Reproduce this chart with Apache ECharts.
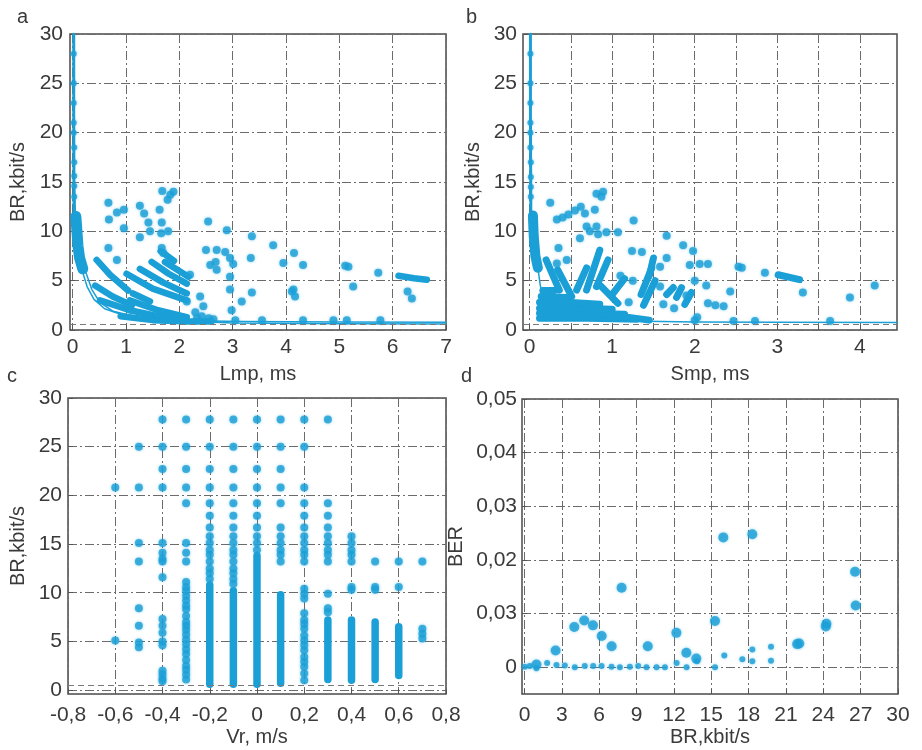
<!DOCTYPE html>
<html>
<head>
<meta charset="utf-8">
<script src="https://cdn.jsdelivr.net/npm/echarts@6.0.0/dist/echarts.min.js"></script>
<style>
html, body { margin: 0; padding: 0; background: #fff; }
#main { width: 922px; height: 750px; }
</style>
</head>
<body>
<div id="main"></div>
<script>
// ---------- tick values / labels ----------
var brTicks = [0, 5, 10, 15, 20, 25, 30];
var brLabels = ['0', '5', '10', '15', '20', '25', '30'];
var lmpTicks = [0, 1, 2, 3, 4, 5, 6, 7];
var lmpLabels = ['0', '1', '2', '3', '4', '5', '6', '7'];
var smpGridTicks = [0, 0.5, 1, 1.5, 2, 2.5, 3, 3.5, 4];
var smpTicks = [0, 1, 2, 3, 4];
var smpLabels = ['0', '1', '2', '3', '4'];
var vrTicks = [-0.8, -0.6, -0.4, -0.2, 0, 0.2, 0.4, 0.6, 0.8];
var vrLabels = ['-0,8', '-0,6', '-0,4', '-0,2', '0', '0,2', '0,4', '0,6', '0,8'];
var rateTicks = [0, 3, 6, 9, 12, 15, 18, 21, 24, 27, 30];
var rateLabels = ['0', '3', '6', '9', '12', '15', '18', '21', '24', '27', '30'];
var berTicks = [0, 0.01, 0.02, 0.03, 0.04, 0.05];
var berLabels = ['0', '0,03', '0,02', '0,03', '0,04', '0,05'];

// ---------- a: BR vs Lmp ----------
var aStem = [[0.02, 30], [0.02, 22], [0.025, 12]];
var aStemDots = [[0.02, 28], [0.02, 25], [0.02, 23], [0.02, 21], [0.02, 20], [0.03, 18.5], [0.03, 17], [0.03, 15.6], [0.03, 14.6], [0.03, 13.5]];
var aSlab = [[0.06, 11.5], [0.08, 10], [0.1, 8.5], [0.13, 7.3], [0.19, 6.2]];
var aCurve1 = [[0.02, 30], [0.02, 20], [0.03, 15], [0.05, 12], [0.09, 9], [0.15, 7.3], [0.23, 6.1], [0.36, 4.1], [0.51, 2.8], [0.76, 1.9], [1.07, 1.5], [1.64, 1.15], [2.26, 0.95], [3.2, 0.85], [5, 0.8], [7, 0.78]];
var aCurve2 = [[0.18, 6.0], [0.27, 4.4], [0.4, 3.1], [0.6, 2.15], [0.9, 1.6], [1.3, 1.25], [2.0, 0.95], [3, 0.72], [5, 0.64], [7, 0.62]];
var aStreaks = [
  [[0.45, 7.1], [0.7, 5.6], [1.04, 4.0]],
  [[0.42, 4.5], [0.75, 3.4], [1.11, 2.5]],
  [[0.51, 3.0], [0.8, 2.5], [1.07, 2.0]],
  [[1.01, 5.7], [1.5, 4.2], [2.14, 3.0]],
  [[1.26, 6.2], [1.7, 4.8], [2.14, 3.7]],
  [[1.48, 6.9], [1.8, 5.7], [2.14, 4.7]],
  [[1.73, 6.9], [2.17, 5.4]],
  [[1.65, 8.0], [1.9, 7.0]],
  [[1.07, 3.0], [1.6, 2.0], [2.14, 1.3]],
  [[1.07, 2.0], [1.6, 1.4], [2.14, 0.9]],
  [[0.9, 1.4], [1.5, 1.0], [2.2, 0.85], [2.6, 0.85]],
  [[1.13, 3.7], [1.45, 2.9]],
  [[6.11, 5.5], [6.4, 5.25], [6.64, 5.1]]
];
var aDots = [
  [0.67, 12.9], [0.68, 11.2], [0.83, 11.9], [0.96, 12.2], [0.96, 10.3], [0.67, 8.3], [0.83, 7.1],
  [1.26, 12.6], [1.34, 11.8], [1.42, 10.9], [1.26, 9.4], [1.45, 10.0], [1.63, 12.2], [1.67, 10.9],
  [1.66, 9.8], [1.79, 10.0], [1.68, 14.1], [1.83, 13.7], [1.89, 14.0], [1.78, 13.2], [1.67, 8.3],
  [1.70, 7.8], [2.2, 5.6], [2.54, 11.0], [2.89, 10.1], [2.5, 8.1], [2.7, 8.1], [2.86, 7.9], [2.58, 6.6],
  [2.68, 6.9], [2.70, 6.1], [2.95, 7.3], [3.01, 6.7], [2.95, 5.4], [2.95, 4.1], [2.98, 2.0], [3.17, 2.9],
  [3.36, 9.5], [3.34, 7.3], [3.36, 3.8], [3.76, 8.6], [3.95, 6.8], [4.15, 7.8], [4.32, 6.6], [4.11, 3.9],
  [4.17, 3.4], [4.14, 4.1], [5.11, 6.5], [5.17, 6.4], [5.26, 4.4], [5.73, 5.8], [6.28, 3.9], [6.36, 3.2],
  [2.33, 1.2], [2.42, 1.4], [2.55, 1.2], [2.64, 1.1], [2.39, 3.4], [2.45, 2.4], [2.14, 2.9], [2.3, 1.8],
  [3.05, 1.0], [3.55, 1.0], [4.32, 1.0], [4.89, 1.0], [5.14, 1.0], [5.77, 1.0]
];

// ---------- b: BR vs Smp ----------
var bStem = [[0.01, 30], [0.01, 22], [0.015, 12]];
var bStemDots = [[0.01, 28], [0.01, 25], [0.01, 23], [0.01, 21], [0.01, 20], [0.01, 18.5], [0.015, 17], [0.015, 15.5], [0.015, 14.5], [0.015, 13.5]];
var bSlab = [[0.04, 11.6], [0.05, 9.5], [0.07, 7.5], [0.1, 6.3]];
var bCurve = [[0.1, 6.3], [0.13, 4.5], [0.18, 3.0], [0.25, 2.0], [0.4, 1.4], [0.7, 1.05], [1.2, 0.9], [2, 0.82], [3, 0.78], [4.45, 0.75]];
var bStreaks = [
  [[0.12, 1.2], [0.7, 1.2], [1.3, 1.1]],
  [[0.12, 1.7], [0.65, 1.7], [1.15, 1.6]],
  [[0.12, 2.2], [0.6, 2.2], [1.0, 2.1]],
  [[0.12, 2.8], [0.5, 2.8], [0.85, 2.6]],
  [[0.14, 3.4], [0.45, 3.3]],
  [[0.16, 4.0], [0.3, 4.0]],
  [[1.0, 1.5], [1.45, 1.0]],
  [[0.2, 7.1], [0.36, 4.05]],
  [[0.34, 6.1], [0.51, 3.4]],
  [[0.57, 4.05], [0.69, 6.3]],
  [[0.69, 4.05], [0.85, 8.1]],
  [[0.81, 4.4], [0.95, 7.1]],
  [[0.87, 4.4], [1.07, 2.7]],
  [[1.0, 3.6], [1.15, 5.2]],
  [[1.35, 3.6], [1.48, 6.3]],
  [[1.38, 2.5], [1.52, 5.0]],
  [[1.45, 5.5], [1.5, 7.3]],
  [[1.66, 3.6], [1.74, 4.3]],
  [[1.78, 3.3], [1.84, 4.3]],
  [[1.88, 2.6], [1.96, 3.8]],
  [[3.01, 5.6], [3.27, 5.1]]
];
var bDots = [
  [0.25, 12.9], [0.33, 11.2], [0.4, 11.4], [0.47, 11.7], [0.55, 12.1], [0.62, 12.5], [0.67, 11.8], [0.79, 12.2],
  [0.81, 13.8], [0.87, 13.5], [0.89, 14.0], [0.61, 9.3], [0.69, 10.5], [0.73, 10.0], [0.81, 10.5], [0.83, 9.7],
  [0.93, 9.9], [1.07, 9.9], [1.26, 11.1], [0.35, 8.3], [0.33, 6.75], [0.45, 7.1], [1.66, 9.55], [1.24, 8.0],
  [1.36, 7.9], [1.86, 8.6], [1.98, 8.0], [1.66, 7.3], [1.94, 6.6], [2.06, 6.7], [2.16, 6.7], [1.58, 4.4],
  [2.53, 6.4], [2.57, 6.3], [2.85, 5.8], [3.31, 3.8], [3.88, 3.3], [4.18, 4.5], [2.43, 3.9], [2.16, 2.7],
  [2.25, 2.5], [2.35, 2.4], [2.14, 4.5], [2.0, 5.0], [1.9, 3.5], [2.0, 1.0], [2.03, 1.3], [2.47, 0.9],
  [2.73, 0.9], [3.64, 0.9], [1.25, 5.0], [1.1, 5.5], [1.58, 6.4], [1.62, 2.6], [1.75, 2.2], [1.2, 2.8]
];

// ---------- c: BR vs Vr ----------
var vrCols = [-0.6, -0.5, -0.4, -0.3, -0.2, -0.1, 0, 0.1, 0.2, 0.3, 0.4, 0.5, 0.6, 0.7];
var brPerCol = [
  [20.8, 5.1],
  [25, 20.8, 15.1, 13.2, 8.4, 6.6, 4.9, 4.4],
  [27.8, 25, 22.7, 20.8, 15.1, 14.1, 13.5, 13.2, 11.6, 7.3, 6.6, 5.9, 5.0, 4.6, 2.0, 1.6, 1.2, 0.9],
  [27.8, 25, 22.7, 20.8, 19.2, 15.1, 14.1, 13.2, 11.1, 10.6, 10.2, 9.7, 9.2, 8.7, 8.3, 7.6, 7.0, 6.6, 6.2, 5.7, 5.2, 4.7, 4.2, 3.7, 3.1, 2.5, 2.1, 1.6, 1.1],
  [27.8, 25, 22.7, 20.8, 19.2, 17.9, 16.7, 15.8, 15.1, 14.4, 13.9, 13.2, 12.5, 12.0, 11.4],
  [27.8, 25, 22.7, 20.8, 19.2, 17.9, 16.7, 15.8, 15.1, 14.4, 13.9, 13.2, 12.5, 12.0, 11.4, 10.9],
  [27.8, 25, 22.7, 20.8, 19.2, 17.9, 16.7, 15.8, 15.1, 14.4],
  [27.8, 25, 22.7, 20.8, 19.2, 16.7, 15.8, 15.1, 14.4, 13.9, 13.2],
  [27.8, 25, 20.8, 19.2, 17.9, 16.7, 15.8, 15.1, 14.4, 13.9, 13.2, 10.4, 9.9, 9.4, 7.9, 7.2, 6.8, 6.3, 5.6, 5.1, 4.6, 4.1, 3.4, 2.9, 2.4, 1.7, 1.0],
  [27.8, 19.2, 17.9, 16.7, 15.8, 15.1, 14.4, 13.9, 13.2, 9.9, 8.4, 8.0],
  [15.8, 15.1, 14.4, 13.9, 13.2, 10.6, 10.3],
  [13.2, 10.6, 10.3],
  [13.2, 10.6],
  [13.2, 6.3, 5.8, 5.3]
];
var denseCols = [-0.2, -0.1, 0, 0.1, 0.3, 0.4, 0.5, 0.6];
var denseFrom = [0.6, 0.6, 0.6, 0.7, 1.1, 1.0, 1.1, 1.5];
var denseTo = [10.8, 10.2, 13.8, 9.8, 7.2, 7.2, 7.0, 6.5];

// ---------- d: BER vs BR ----------
var dBig = [
  [15.97, 0.0242], [18.3, 0.0248], [26.55, 0.0178], [26.6, 0.0115], [7.8, 0.0148], [15.3, 0.0086],
  [24.25, 0.0081], [24.2, 0.0076], [22.07, 0.0044], [21.9, 0.0043], [12.2, 0.0064], [13.0, 0.0027],
  [13.8, 0.0016], [9.9, 0.0039], [4.0, 0.0075], [4.8, 0.0087], [5.5, 0.0078], [6.2, 0.0058],
  [7.0, 0.0039], [2.5, 0.0031], [0.96, 0.0005]
];
var dSmall = [
  [16.05, 0.0022], [18.3, 0.0033], [17.5, 0.0015], [18.3, 0.0011], [19.8, 0.0038], [19.8, 0.0012], [13.85, 0.0011],
  [0.02, 0.0001], [0.43, 0.0002], [0.96, -0.0002], [1.82, 0.0008], [2.57, 0.0004], [3.24, 0.0003], [4.04, 0.0],
  [4.84, 0.0002], [5.52, 0.0002], [6.19, 0.0002], [6.99, 0.0001], [7.66, 0.0], [8.46, 0.0001], [9.13, 0.0002],
  [9.8, 0.0], [10.61, 0.0], [11.28, 0.0], [12.22, 0.0008], [13.02, 0.0], [15.3, 0.0]
];

var refLevel = 0.55;

// ---------- chart ----------
var blue = '#1a9fd6';
var font = 'Liberation Sans, Arial, sans-serif';
var txt = '#3a3a3a';

function pick(list, labels) {
  return function(v) {
    for (var i = 0; i < list.length; i++) {
      if (Math.abs(list[i] - v) < 1e-9) return labels[i];
    }
    return '';
  };
}

function axis(g, min, max, ticks, labelTicks, labels, name, gap, margin) {
  return {
    type: 'value', gridIndex: g, min: min, max: max,
    name: name, nameLocation: 'middle', nameGap: gap,
    nameTextStyle: { fontSize: 20, color: txt, fontFamily: font },
    axisLine: { show: false, onZero: false },
    axisTick: { show: true, inside: true, length: 5, customValues: ticks, lineStyle: { color: '#555' } },
    axisLabel: { customValues: labelTicks, fontSize: 21, color: txt, fontFamily: font, margin: margin,
      formatter: pick(labelTicks, labels) },
    splitLine: { show: true, lineStyle: { color: '#6b6b6b', width: 1, type: [9, 3, 2, 3] } }
  };
}

var series = [];
function addLine(g, pts, w) {
  series.push({ type: 'line', xAxisIndex: g, yAxisIndex: g, data: pts, symbol: 'none', silent: true,
    lineStyle: { color: blue, width: w, cap: 'round', join: 'round' }, z: 2 });
}
function addDots(g, pts, size) {
  series.push({ type: 'scatter', xAxisIndex: g, yAxisIndex: g, data: pts, symbolSize: size, silent: true,
    itemStyle: { color: blue, shadowBlur: 3, shadowColor: 'rgba(40,170,225,0.6)' }, z: 3 });
}
function addRef(g) {
  series.push({ type: 'line', xAxisIndex: g, yAxisIndex: g, data: [], silent: true,
    markLine: { silent: true, symbol: 'none', label: { show: false }, animation: false,
      lineStyle: { color: '#7a7a7a', width: 1, type: [6, 4] }, data: [{ yAxis: refLevel }] } });
}

// a
addRef(0);
addLine(0, aStem, 3);
addLine(0, aCurve1, 1.5);
addLine(0, aCurve2, 1.5);
addLine(0, aSlab, 11);
aStreaks.forEach(function(s) { addLine(0, s, 6.5); });
addDots(0, aStemDots, 6);
addDots(0, aDots, 8);

// b
addRef(1);
addLine(1, bStem, 3);
addLine(1, bCurve, 1.5);
addLine(1, bSlab, 10);
bStreaks.forEach(function(s) { addLine(1, s, 7); });
addDots(1, bStemDots, 6);
addDots(1, bDots, 8);

// c
addRef(2);
denseCols.forEach(function(x, i) { addLine(2, [[x, denseFrom[i]], [x, denseTo[i]]], 7.5); });
var cPts = [];
vrCols.forEach(function(x, i) { brPerCol[i].forEach(function(y) { cPts.push([x, y]); }); });
addDots(2, cPts, 8);

// d
addDots(3, dSmall, 6);
addDots(3, dBig, 10);

var gridBase = { show: true, borderColor: '#4a4a4a', borderWidth: 1.5, backgroundColor: '#fff', outerBoundsMode: 'none', containLabel: false };
function grid(l, t, w, h) {
  return Object.assign({ left: l, top: t, width: w, height: h }, gridBase);
}

var myChart = echarts.init(document.getElementById('main'));
var option = {
  animation: false,
  backgroundColor: '#fff',
  grid: [grid(70, 34, 376, 296), grid(523, 34, 374, 296), grid(68, 398, 378, 296), grid(522, 399, 376, 295)],
  xAxis: [
    axis(0, -0.05, 7, lmpTicks, lmpTicks, lmpLabels, 'Lmp, ms', 34, 7),
    axis(1, -0.08, 4.45, smpGridTicks, smpTicks, smpLabels, 'Smp, ms', 34, 7),
    axis(2, -0.8, 0.8, vrTicks, vrTicks, vrLabels, 'Vr, m/s', 33, 11),
    axis(3, -0.2, 30, rateTicks, rateTicks, rateLabels, 'BR,kbit/s', 33, 11)
  ],
  yAxis: [
    axis(0, 0, 30, brTicks, brTicks, brLabels, 'BR,kbit/s', 42, 7),
    axis(1, 0, 30, brTicks, brTicks, brLabels, 'BR,kbit/s', 40, 6),
    axis(2, -0.4, 30, brTicks, brTicks, brLabels, 'BR,kbit/s', 40, 6),
    axis(3, -0.005, 0.05, berTicks, berTicks, berLabels, 'BER', 56, 5)
  ],
  graphic: [
    { type: 'text', left: 17, top: 7, style: { text: 'a', fill: txt, font: '20px Liberation Sans, Arial, sans-serif' } },
    { type: 'text', left: 466, top: 7, style: { text: 'b', fill: txt, font: '20px Liberation Sans, Arial, sans-serif' } },
    { type: 'text', left: 7, top: 366, style: { text: 'c', fill: txt, font: '20px Liberation Sans, Arial, sans-serif' } },
    { type: 'text', left: 461, top: 366, style: { text: 'd', fill: txt, font: '20px Liberation Sans, Arial, sans-serif' } }
  ],
  series: series
};
myChart.setOption(option);
</script>
</body>
</html>
